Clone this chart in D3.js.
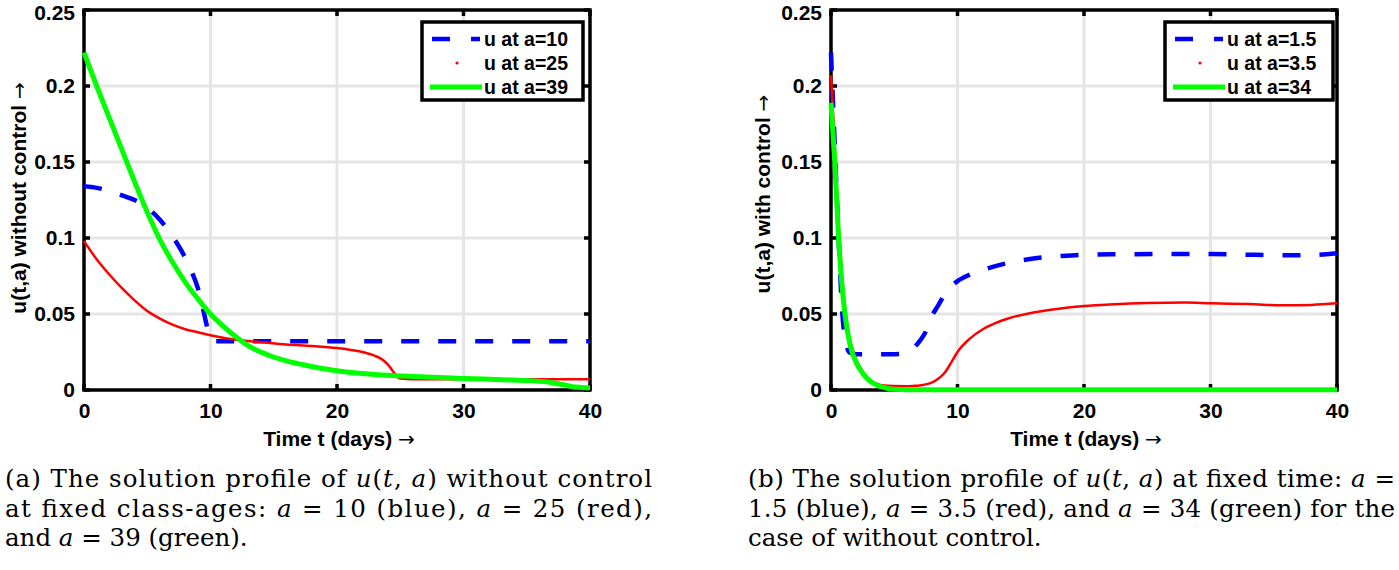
<!DOCTYPE html>
<html><head><meta charset="utf-8">
<script src="https://cdn.jsdelivr.net/npm/d3@7"></script>
<style>body{margin:0;background:#fff}svg{display:block}</style>
</head><body>
<svg id="c" width="1399" height="570"></svg>
<script>
// ---------- data ----------
const xTicks = [0, 10, 20, 30, 40];
const xTickLabels = ["0", "10", "20", "30", "40"];
const yTicks = [0, 0.05, 0.1, 0.15, 0.2, 0.25];
const yTickLabels = ["0", "0.05", "0.1", "0.15", "0.2", "0.25"];

// panel (a): without control
const legendA = ["u at a=10", "u at a=25", "u at a=39"];
const tA1 = [0,1,2,3,4,5,6,7,8,8.5,9,9.5,9.75,10,10.3,10.6,15,20,25,30,35,40];
const uA1 = [0.134,0.133,0.131,0.128,0.125,0.12,0.112,0.101,0.087,0.078,0.067,0.05,0.041,0.035,0.032,0.032,0.032,0.032,0.032,0.032,0.032,0.032];
const tA2 = [0,1,2,3,4,5,6,7,8,9,10,12,14,16,18,20,21,22,23,23.5,24,24.5,25,26,30,35,40];
const uA2 = [0.098,0.086,0.076,0.067,0.059,0.052,0.047,0.043,0.040,0.038,0.036,0.033,0.0315,0.030,0.029,0.0276,0.0265,0.025,0.0225,0.0205,0.017,0.0115,0.0075,0.007,0.007,0.007,0.007];
const tA3 = [0,1,2,3,4,5,6,7,8,9,10,11,12,13,14.5,16,17.5,20,23.5,26.6,30,33,35.6,37,38,38.6,39.3,40];
const uA3 = [0.222,0.2,0.179,0.158,0.137,0.117,0.099,0.084,0.071,0.06,0.05,0.042,0.035,0.029,0.0232,0.0192,0.0163,0.0126,0.0098,0.0087,0.0076,0.0068,0.006,0.0048,0.0033,0.0022,0.0017,0.0015];

// panel (b): with control
const legendB = ["u at a=1.5", "u at a=3.5", "u at a=34"];
const tB1 = [0,0.3,0.6,0.9,1.2,1.5,2,3,4,5,5.8,6.3,6.8,7.4,8,8.5,9,9.5,10,11,12,14,16,18,20,23,26,30,33,36,38,40];
const uB1 = [0.222,0.16,0.1,0.05,0.03,0.0245,0.0236,0.0236,0.0236,0.0236,0.024,0.026,0.03,0.037,0.049,0.056,0.063,0.068,0.0716,0.076,0.079,0.0836,0.0865,0.088,0.089,0.0893,0.0895,0.0895,0.089,0.0887,0.0888,0.090];
const tB2 = [0,0.3,0.6,1.1,1.4,2,2.5,3,3.5,4,5,6,6.5,7,7.5,8,8.5,9,9.5,10,11,12,13,14,16,18,20,22,25,28,30,33,36,38,40];
const uB2 = [0.207,0.16,0.11,0.055,0.037,0.02,0.012,0.007,0.0045,0.0032,0.0026,0.0025,0.0027,0.003,0.0037,0.005,0.0075,0.0115,0.018,0.025,0.034,0.04,0.044,0.047,0.051,0.0535,0.0552,0.0563,0.0573,0.0575,0.057,0.0565,0.0557,0.056,0.057];
const tB3 = [0,0.3,0.6,1.1,1.4,1.7,2,2.5,3,3.5,4,4.5,5,6,10,20,30,40];
const uB3 = [0.189,0.15,0.1,0.05,0.034,0.024,0.018,0.011,0.0065,0.0037,0.002,0.001,0.0005,0.0002,0.0002,0.0002,0.0002,0.0002];

const seriesColors = ["#0000ff", "#ff0000", "#00ff00"];

// ---------- drawing ----------
const svg = d3.select("#c");
const sans = "'Liberation Sans', Arial, sans-serif";
const serif = "'DejaVu Serif', serif";
const arrowFont = "'DejaVu Sans', sans-serif";

function panel(opt) {
  const x = d3.scaleLinear().domain([0, 40]).range([opt.x0, opt.x1]);
  const y = d3.scaleLinear().domain([0, 0.25]).range([390, 10]);
  const g = svg.append("g");

  // grid
  g.selectAll(".gx").data(xTicks.slice(1, -1)).enter().append("line")
    .attr("x1", d => x(d)).attr("x2", d => x(d)).attr("y1", y(0)).attr("y2", y(0.25))
    .attr("stroke", "#e5e5e5").attr("stroke-width", 3);
  g.selectAll(".gy").data(yTicks.slice(1, -1)).enter().append("line")
    .attr("y1", d => y(d)).attr("y2", d => y(d)).attr("x1", x(0)).attr("x2", x(40))
    .attr("stroke", "#e5e5e5").attr("stroke-width", 3);

  // axes via d3 axis
  const tl = 6;
  const ax = d3.axisBottom(x).tickValues(xTicks).tickFormat((d, i) => xTickLabels[i]).tickSize(0).tickPadding(13);
  const gxa = g.append("g").attr("transform", `translate(0,${y(0)})`).call(ax);
  gxa.select(".domain").remove();
  gxa.selectAll("text").attr("font-family", sans).attr("font-weight", "bold").attr("font-size", 21).attr("fill", "#000");
  const ayy = d3.axisLeft(y).tickValues(yTicks).tickFormat((d, i) => yTickLabels[i]).tickSize(0).tickPadding(9);
  const gya = g.append("g").attr("transform", `translate(${x(0)},0)`).call(ayy);
  gya.select(".domain").remove();
  gya.selectAll("text").attr("font-family", sans).attr("font-weight", "bold").attr("font-size", 21).attr("fill", "#000")
    .attr("dy", d => d === 0.25 ? "0.45em" : "0.32em");

  // ticks inward on four sides
  xTicks.forEach(t => {
    g.append("line").attr("x1", x(t)).attr("x2", x(t)).attr("y1", y(0)).attr("y2", y(0) - tl).attr("stroke", "#000").attr("stroke-width", 3.5);
    g.append("line").attr("x1", x(t)).attr("x2", x(t)).attr("y1", y(0.25)).attr("y2", y(0.25) + tl).attr("stroke", "#000").attr("stroke-width", 3.5);
  });
  yTicks.forEach(v => {
    g.append("line").attr("y1", y(v)).attr("y2", y(v)).attr("x1", x(0)).attr("x2", x(0) + tl).attr("stroke", "#000").attr("stroke-width", 3.5);
    g.append("line").attr("y1", y(v)).attr("y2", y(v)).attr("x1", x(40)).attr("x2", x(40) - tl).attr("stroke", "#000").attr("stroke-width", 3.5);
  });

  // frame
  g.append("rect").attr("x", x(0)).attr("y", y(0.25)).attr("width", x(40) - x(0)).attr("height", y(0) - y(0.25))
    .attr("fill", "none").attr("stroke", "#000").attr("stroke-width", 3.5);

  // series
  const line = d3.line().x(d => x(d[0])).y(d => y(d[1])).curve(d3.curveMonotoneX);
  const styles = [
    { w: 4.5, dash: "18,19" },
    { w: 2.5, dash: null },
    { w: 5, dash: null }
  ];
  opt.series.forEach((s, i) => {
    const pts = s[0].map((t, k) => [t, s[1][k]]);
    const p = g.append("path").datum(pts).attr("d", line)
      .attr("fill", "none").attr("stroke", seriesColors[i]).attr("stroke-width", styles[i].w)
      .attr("stroke-linejoin", "round");
    if (styles[i].dash) p.attr("stroke-dasharray", styles[i].dash);
  });

  // legend
  const L = opt.legend;
  g.append("rect").attr("x", L.x).attr("y", 22).attr("width", L.w).attr("height", 78)
    .attr("fill", "#fff").attr("stroke", "#000").attr("stroke-width", 3.5);
  const rows = [39, 63, 87];
  g.append("line").attr("x1", L.x + 10).attr("x2", L.x + 28).attr("y1", rows[0]).attr("y2", rows[0]).attr("stroke", seriesColors[0]).attr("stroke-width", 4.5);
  g.append("line").attr("x1", L.x + 49).attr("x2", L.x + 58).attr("y1", rows[0]).attr("y2", rows[0]).attr("stroke", seriesColors[0]).attr("stroke-width", 4.5);
  g.append("circle").attr("cx", L.x + 35).attr("cy", rows[1]).attr("r", 1.6).attr("fill", seriesColors[1]);
  g.append("line").attr("x1", L.x + 8).attr("x2", L.x + 60).attr("y1", rows[2]).attr("y2", rows[2]).attr("stroke", seriesColors[2]).attr("stroke-width", 5);
  opt.legendText.forEach((t, i) => {
    g.append("text").attr("x", L.x + 62).attr("y", rows[i] + 7).text(t)
      .attr("font-family", sans).attr("font-weight", "bold").attr("font-size", 19.5);
  });

  // axis titles
  const xt = g.append("text").attr("x", (x(0) + x(40)) / 2 + 2).attr("y", 446).attr("text-anchor", "middle")
    .attr("font-family", sans).attr("font-size", 21);
  xt.append("tspan").attr("font-weight", "bold").text("Time t (days) ");
  xt.append("tspan").attr("font-family", arrowFont).attr("font-size", 20).text("\u2192");

  const yt = g.append("text").attr("transform", `translate(${opt.ylabX},${opt.ylabY}) rotate(-90)`).attr("text-anchor", "middle")
    .attr("font-family", sans).attr("font-size", 21);
  yt.append("tspan").attr("font-weight", "bold").text(opt.ylab + " ");
  yt.append("tspan").attr("font-family", arrowFont).attr("font-size", 20).text("\u2192");
}

panel({
  x0: 84, x1: 590, series: [[tA1, uA1], [tA2, uA2], [tA3, uA3]],
  legend: { x: 422, w: 161 }, legendText: legendA,
  ylab: "u(t,a) without control", ylabX: 26, ylabY: 198
});
panel({
  x0: 831, x1: 1337, series: [[tB1, uB1], [tB2, uB2], [tB3, uB3]],
  legend: { x: 1165, w: 168 }, legendText: legendB,
  ylab: "u(t,a) with control", ylabX: 770, ylabY: 194
});

// ---------- captions ----------
function caption(x0, width, lines) {
  lines.forEach((ln, i) => {
    const t = svg.append("text").attr("x", x0).attr("y", 487 + i * 29.5)
      .attr("font-family", serif).attr("font-size", 24.5).attr("fill", "#000");
    if (ln.justify) t.attr("textLength", width).attr("lengthAdjust", "spacing");
    ln.parts.forEach(p => {
      const s = t.append("tspan").text(p[0]);
      if (p[1]) s.attr("font-style", "italic");
    });
  });
}
caption(5, 647, [
  { justify: true, parts: [["(a) The solution profile of "], ["u", 1], ["("], ["t", 1], [", "], ["a", 1], [") without control"]] },
  { justify: true, parts: [["at fixed class-ages: "], ["a", 1], [" = 10 (blue), "], ["a", 1], [" = 25 (red),"]] },
  { justify: false, parts: [["and "], ["a", 1], [" = 39 (green)."]] }
]);
caption(748, 647, [
  { justify: true, parts: [["(b) The solution profile of "], ["u", 1], ["("], ["t", 1], [", "], ["a", 1], [") at fixed time: "], ["a", 1], [" ="]] },
  { justify: true, parts: [["1.5 (blue), "], ["a", 1], [" = 3.5 (red), and "], ["a", 1], [" = 34 (green) for the"]] },
  { justify: false, parts: [["case of without control."]] }
]);
</script>
</body></html>
